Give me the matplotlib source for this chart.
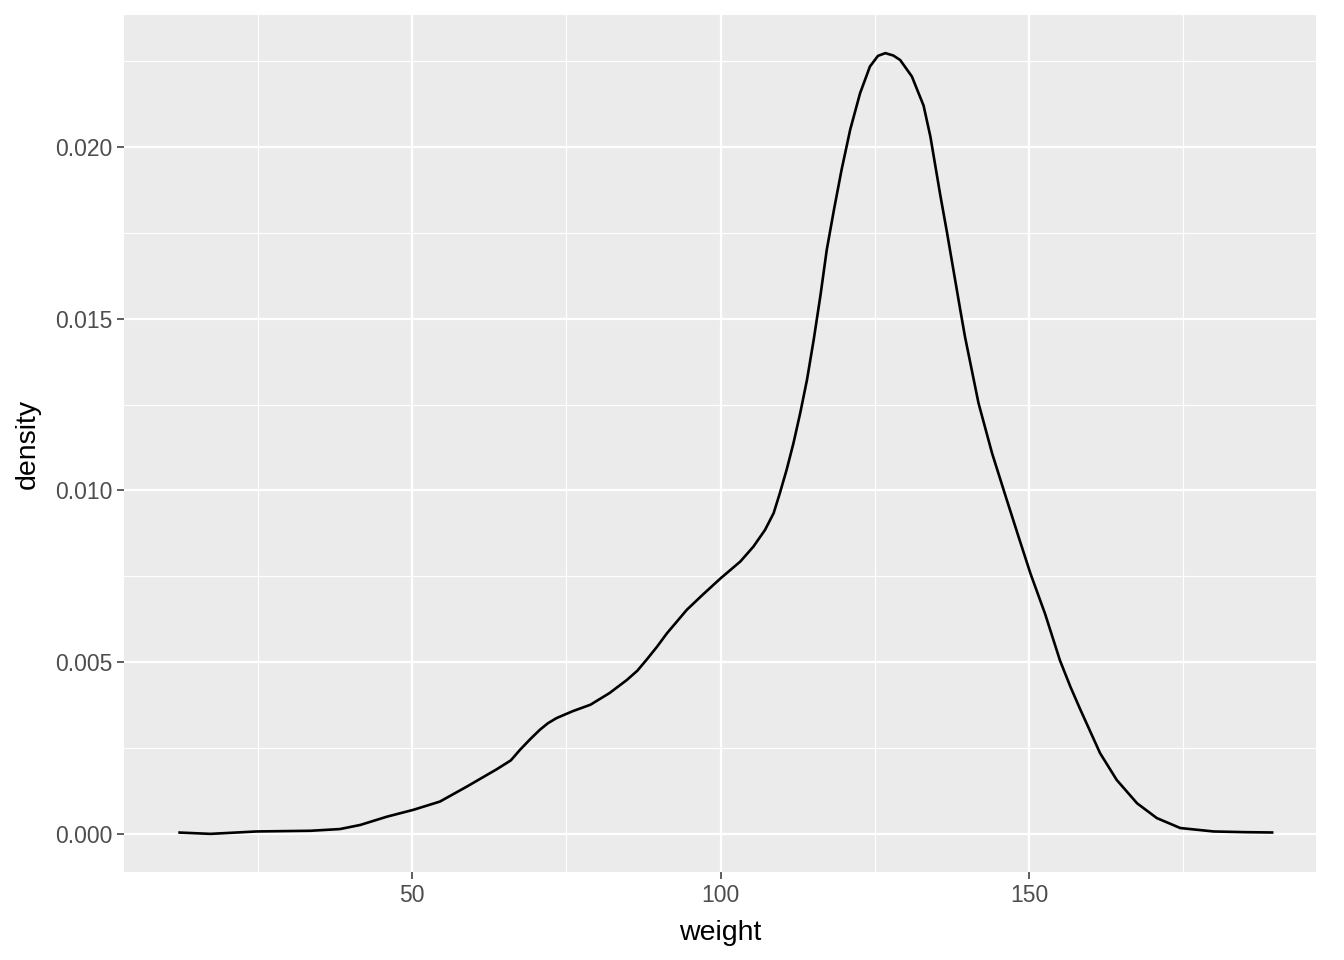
import matplotlib
matplotlib.use("Agg")
import matplotlib.pyplot as plt
from matplotlib.ticker import FixedLocator

# %% Datos leidos de la curva de densidad
weight = [12.1, 17.3, 24.8, 33.5, 38.3, 41.6, 45.9, 50.2, 54.5, 58.9, 63.7, 66.0,
          67.5, 69.1, 70.7, 72.0, 73.4, 76.0, 78.9, 82.0, 84.8, 86.5, 88.0, 89.7,
          91.3, 93.0, 94.5, 97.2, 100, 103.2, 105.3, 107.2, 108.6, 109.6, 110.7,
          111.8, 112.9, 114.0, 115.1, 116.2, 117.2, 118.4, 119.6, 121.0, 122.6,
          124.2, 125.5, 126.7, 128.0, 129.1, 131.0, 132.9, 134.0, 135.6, 136.7,
          137.7, 138.8, 139.6, 141.8, 144.0, 146.3, 148.2, 150.2, 152.6, 155.0,
          156.7, 158.3, 161.5, 164.2, 167.5, 170.7, 174.5, 179.9, 185, 189.6]
density = [0.00004, 0.0, 0.00007, 0.00009, 0.00014, 0.00026, 0.0005, 0.0007,
           0.00094, 0.00138, 0.00188, 0.00214, 0.00245, 0.00275, 0.00303, 0.00322,
           0.00337, 0.00357, 0.00376, 0.0041, 0.00448, 0.00475, 0.00507, 0.00545,
           0.00584, 0.0062, 0.00652, 0.00698, 0.00744, 0.00793, 0.00836, 0.00885,
           0.00934, 0.00992, 0.0106, 0.01137, 0.01225, 0.01322, 0.0144, 0.0157,
           0.0170, 0.0182, 0.01933, 0.0205, 0.02156, 0.02234, 0.02265, 0.02273,
           0.02266, 0.02253, 0.02205, 0.0212, 0.0203, 0.0186, 0.0175, 0.01645,
           0.0153, 0.01448, 0.01254, 0.01108, 0.00977, 0.0087, 0.00759, 0.0064,
           0.00505, 0.00428, 0.00362, 0.00235, 0.00157, 0.00089, 0.00046, 0.00017,
           0.00007, 0.00005, 0.00004]

xticks = [50, 100, 150]
yticks = [0.000, 0.005, 0.010, 0.015, 0.020]
xminor = [25, 75, 125, 175]
yminor = [0.0025, 0.0075, 0.0125, 0.0175, 0.0225]

# %% Grafica estilo ggplot
plt.rcParams['font.family'] = ['Liberation Sans', 'DejaVu Sans']

fig = plt.figure(figsize=(13.44, 9.6), dpi=100, facecolor='white')
axis = fig.add_axes([124/1344, 1-872/960, (1316-124)/1344, (872-15)/960])
axis.set_facecolor('#EBEBEB')
for s in axis.spines.values():
    s.set_visible(False)

axis.xaxis.set_major_locator(FixedLocator(xticks))
axis.yaxis.set_major_locator(FixedLocator(yticks))
axis.xaxis.set_minor_locator(FixedLocator(xminor))
axis.yaxis.set_minor_locator(FixedLocator(yminor))
axis.set_yticklabels(["%.3f" % v for v in yticks])

axis.grid(which='major', color='white', linewidth=1.6)
axis.grid(which='minor', color='white', linewidth=0.8)
axis.set_axisbelow(True)

axis.tick_params(which='major', length=5.3, width=1.1, color='#333333',
                 labelcolor='#4D4D4D', labelsize=16.5, pad=3)
axis.tick_params(which='minor', length=0)

axis.plot(weight, density, color='black', linewidth=1.9,
          solid_joinstyle='round', solid_capstyle='butt')

axis.set_xlim(3.3, 196.5)
axis.set_ylim(-0.00111, 0.02384)
axis.set_xlabel("weight", fontsize=20.5, color='black', labelpad=10)
axis.set_ylabel("density", fontsize=20.5, color='black', labelpad=10)

fig.savefig("out.png", dpi=100)
